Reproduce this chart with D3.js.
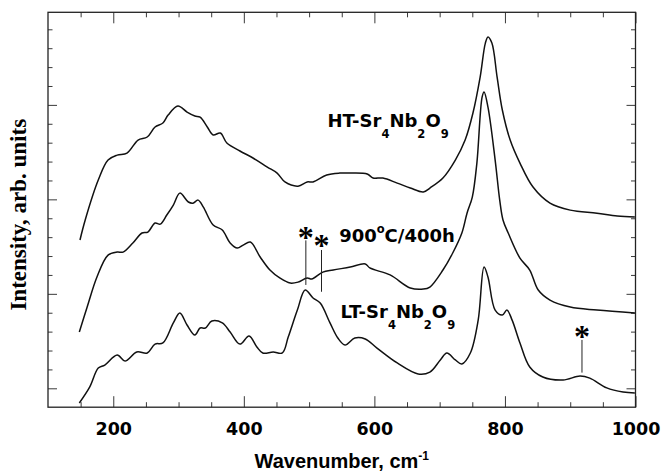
<!DOCTYPE html>
<html>
<head>
<meta charset="utf-8">
<script src="https://cdn.jsdelivr.net/npm/d3@7"></script>
<style>
  body { margin: 0; background: #fff; }
</style>
</head>
<body>
<svg id="chart" width="661" height="474"></svg>
<script>
// Raman spectra of Sr4Nb2O9 (wavenumber in cm^-1, intensity in arbitrary offset units)
const htWavenumber = [149, 157, 177, 192, 206, 221, 238, 252, 264, 276, 284, 299, 313, 325, 333, 344, 353, 364, 374, 394, 414, 436, 451, 463, 483, 497, 506, 527, 547, 563, 589, 598, 613, 635, 655, 675, 685, 705, 724, 739, 751, 762, 770, 774, 780, 788, 796, 808, 823, 843, 869, 900, 941, 972, 999];
const htIntensity  = [7.85, 8.91, 11.02, 12.08, 12.34, 12.45, 13.14, 13.30, 13.83, 14.04, 14.46, 14.94, 14.62, 14.41, 14.35, 13.83, 13.41, 13.51, 12.98, 12.56, 12.19, 11.71, 11.39, 10.92, 10.70, 10.92, 10.92, 11.29, 11.39, 11.39, 11.34, 11.13, 11.13, 10.86, 10.60, 10.39, 10.60, 11.13, 12.08, 13.14, 14.57, 16.47, 18.27, 18.59, 18.27, 16.47, 14.73, 13.14, 11.92, 10.65, 9.80, 9.43, 9.27, 9.12, 9.06];

const annealedWavenumber = [148, 160, 175, 192, 206, 215, 230, 244, 253, 264, 272, 282, 292, 302, 315, 322, 330, 338, 353, 367, 379, 390, 399, 410, 425, 440, 455, 471, 483, 497, 504, 521, 537, 563, 586, 593, 624, 655, 675, 685, 705, 720, 734, 742, 750, 757, 765, 768, 774, 785, 792, 797, 805, 823, 838, 851, 869, 900, 941, 999];
const annealedIntensity  = [2.98, 4.30, 5.89, 7.05, 7.21, 7.21, 7.69, 8.22, 8.27, 8.75, 8.69, 9.17, 9.70, 10.33, 9.86, 9.80, 9.96, 9.59, 8.64, 8.38, 7.69, 7.42, 7.58, 7.74, 6.95, 6.26, 5.84, 5.57, 5.62, 5.84, 5.78, 6.15, 6.26, 6.42, 6.58, 6.37, 6.00, 5.31, 5.25, 5.36, 6.26, 7.16, 8.22, 9.28, 10.12, 11.92, 15.41, 15.68, 14.88, 12.08, 9.96, 8.91, 8.22, 6.89, 6.26, 5.20, 4.67, 4.30, 4.14, 3.98];

const ltWavenumber = [148, 164, 177, 187, 206, 218, 236, 252, 264, 276, 292, 302, 313, 325, 333, 341, 351, 367, 379, 394, 408, 420, 429, 445, 459, 468, 482, 494, 506, 517, 532, 544, 555, 570, 586, 604, 635, 667, 685, 701, 711, 724, 734, 747, 759, 768, 774, 785, 796, 803, 811, 823, 838, 858, 889, 915, 930, 956, 981, 999];
const ltIntensity  = [-0.78, 0.07, 1.07, 1.23, 1.76, 1.44, 1.92, 1.87, 2.34, 2.40, 3.46, 3.98, 3.35, 2.82, 3.19, 3.19, 3.56, 3.46, 2.98, 2.34, 2.77, 2.19, 1.87, 1.92, 1.87, 2.71, 4.14, 5.20, 4.78, 4.51, 3.46, 2.66, 2.29, 2.66, 2.61, 2.13, 1.34, 0.76, 0.86, 1.50, 1.87, 1.50, 1.29, 1.87, 3.61, 6.42, 5.89, 4.14, 3.88, 4.14, 3.61, 2.40, 1.13, 0.60, 0.44, 0.65, 0.54, 0.02, -0.20, -0.25];

// Impurity bands flagged with asterisks: wavenumber, line top/bottom and star centre (intensity units)
const markWavenumber = [495, 519, 918];
const markLineTop    = [7.83, 7.32, 2.56];
const markLineBottom = [5.47, 5.11, 0.83];
const markStar       = [8.24, 7.82, 2.98];

const xTickValues = d3.range(150, 1001, 50);
const xTickLabels = [200, 400, 600, 800, 1000];
const yTickValues = d3.range(0, 20);
const yMajorTicks = [0, 5, 10, 15];

const svg = d3.select("#chart");
const x = d3.scaleLinear().domain([100, 1000]).range([48, 635.5]);
const y = d3.scaleLinear().domain([-1, 19.9]).range([407.2, 12.3]);

const tickColor = "#3a3a3a";

// bottom axis with labels, inward ticks
const gBottom = svg.append("g")
  .attr("transform", `translate(0,${y.range()[0]})`)
  .call(d3.axisBottom(x).tickValues(xTickValues).tickSizeInner(-5).tickSizeOuter(0)
    .tickFormat(d => xTickLabels.includes(d) ? d : ""));
gBottom.select(".domain").remove();
gBottom.selectAll(".tick line")
  .attr("y2", d => xTickLabels.includes(d) ? -11 : -5)
  .attr("stroke", tickColor);
gBottom.selectAll(".tick text")
  .attr("y", 27.4).attr("dy", null)
  .attr("fill", "#000")
  .style("font-family", "'DejaVu Sans', sans-serif")
  .style("font-weight", "bold")
  .style("font-size", "17.5px");

// top axis, ticks only
const gTop = svg.append("g")
  .attr("transform", `translate(0,${y.range()[1]})`)
  .call(d3.axisTop(x).tickValues(xTickValues).tickSizeInner(-5).tickSizeOuter(0).tickFormat(""));
gTop.select(".domain").remove();
gTop.selectAll(".tick line")
  .attr("y2", d => xTickLabels.includes(d) ? 11 : 5)
  .attr("stroke", tickColor);

// left and right axes, ticks only
const gLeft = svg.append("g")
  .attr("transform", `translate(${x.range()[0]},0)`)
  .call(d3.axisLeft(y).tickValues(yTickValues).tickSizeInner(-4.5).tickSizeOuter(0).tickFormat(""));
gLeft.select(".domain").remove();
gLeft.selectAll(".tick line")
  .attr("x2", d => yMajorTicks.includes(d) ? 9 : 4.5)
  .attr("stroke", tickColor);

const gRight = svg.append("g")
  .attr("transform", `translate(${x.range()[1]},0)`)
  .call(d3.axisRight(y).tickValues(yTickValues).tickSizeInner(-4.5).tickSizeOuter(0).tickFormat(""));
gRight.select(".domain").remove();
gRight.selectAll(".tick line")
  .attr("x2", d => yMajorTicks.includes(d) ? -9 : -4.5)
  .attr("stroke", tickColor);

// plot frame
svg.append("rect")
  .attr("x", x.range()[0]).attr("y", y.range()[1])
  .attr("width", x.range()[1] - x.range()[0])
  .attr("height", y.range()[0] - y.range()[1])
  .attr("fill", "none").attr("stroke", "#222").attr("stroke-width", 1.3);

// spectra
const line = d3.line()
  .x(d => x(d[0])).y(d => y(d[1]))
  .curve(d3.curveCatmullRom.alpha(0.5));

[[htWavenumber, htIntensity], [annealedWavenumber, annealedIntensity], [ltWavenumber, ltIntensity]]
  .forEach(([w, v]) => {
    svg.append("path")
      .datum(d3.zip(w, v))
      .attr("d", line)
      .attr("fill", "none")
      .attr("stroke", "#111")
      .attr("stroke-width", 1.5)
      .attr("stroke-linejoin", "round");
  });

// asterisk markers
markWavenumber.forEach((w, i) => {
  svg.append("line")
    .attr("x1", x(w)).attr("x2", x(w))
    .attr("y1", y(markLineTop[i])).attr("y2", y(markLineBottom[i]))
    .attr("stroke", "#222").attr("stroke-width", 1);
  svg.append("text")
    .attr("x", x(w)).attr("y", y(markStar[i]) + 15)
    .attr("text-anchor", "middle")
    .style("font-family", "'Liberation Serif', serif")
    .style("font-weight", "bold")
    .style("font-size", "32px")
    .text("*");
});

// sample labels with subscripts
function formulaLabel(px, py, prefix) {
  const t = svg.append("text")
    .attr("x", px).attr("y", py)
    .style("font-family", "'DejaVu Sans', sans-serif")
    .style("font-weight", "bold")
    .style("font-size", "18px");
  const parts = [[prefix + "Sr", false], ["4", true], ["Nb", false], ["2", true], ["O", false], ["9", true]];
  parts.forEach(([s, sub], i) => {
    const ts = t.append("tspan").text(s);
    if (sub) ts.attr("dy", 10.8).style("font-size", "11.5px");
    else if (i > 0) ts.attr("dy", -10.8);
  });
}
formulaLabel(x(528), y(13.84), "HT-");
formulaLabel(x(548), y(3.70), "LT-");

const annealLabel = svg.append("text")
  .attr("x", x(546)).attr("y", y(7.76))
  .style("font-family", "'DejaVu Sans', sans-serif")
  .style("font-weight", "bold")
  .style("font-size", "18px");
annealLabel.append("tspan").text("900");
annealLabel.append("tspan").text("o").attr("dy", -9).style("font-size", "11.5px");
annealLabel.append("tspan").text("C/400h").attr("dy", 9);

// axis titles
const xTitle = svg.append("text")
  .attr("x", (x.range()[0] + x.range()[1]) / 2).attr("y", 468)
  .attr("text-anchor", "middle")
  .style("font-family", "'Liberation Sans', Arial, sans-serif")
  .style("font-weight", "bold")
  .style("font-size", "20px");
xTitle.append("tspan").text("Wavenumber, cm");
xTitle.append("tspan").text("-1").attr("dy", -8).style("font-size", "12px");

svg.append("text")
  .attr("transform", `translate(26,${(y.range()[0] + y.range()[1]) / 2 + 5}) rotate(-90)`)
  .attr("text-anchor", "middle")
  .style("font-family", "'Liberation Serif', 'Times New Roman', serif")
  .style("font-weight", "bold")
  .style("font-size", "23px")
  .text("Intensity, arb. units");
</script>
</body>
</html>
